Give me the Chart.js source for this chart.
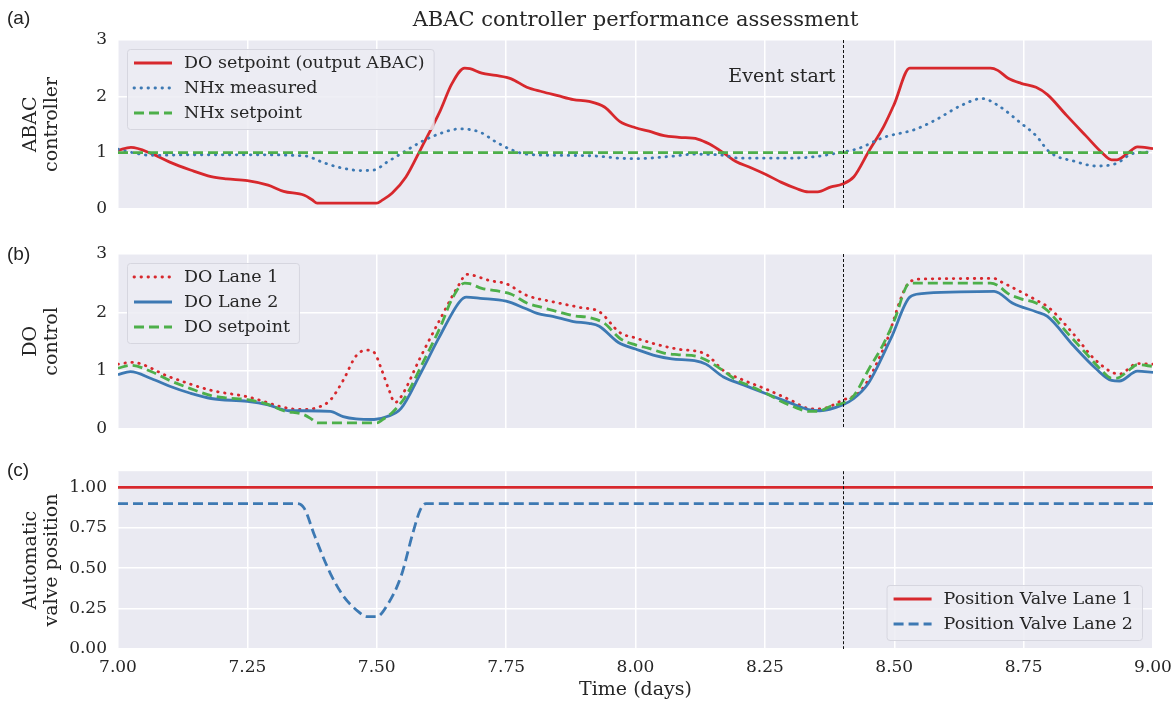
<!DOCTYPE html>
<html>
<head>
<meta charset="utf-8">
<title>ABAC controller performance assessment</title>
<script src="https://cdn.jsdelivr.net/npm/chart.js@4.4.0/dist/chart.umd.min.js"></script>
<style>
  body { margin: 0; background: #fff; }
  #wrap { position: relative; width: 1173px; height: 703px; overflow: hidden; }
  canvas { position: absolute; left: 0; }
  .panel { position: absolute; left: 7px; font-family: "Liberation Sans", Arial, sans-serif; font-size: 19px; color: #222; }
  #title { position: absolute; left: 118px; width: 1035px; top: 7px; text-align: center;
           font-family: "DejaVu Serif", serif; font-size: 21px; color: #262626; }
</style>
</head>
<body>
<div id="wrap">
  <canvas id="chartA" width="1173" height="230" style="top:0px;width:1173px;height:230px"></canvas>
  <canvas id="chartB" width="1173" height="220" style="top:230px;width:1173px;height:220px"></canvas>
  <canvas id="chartC" width="1173" height="253" style="top:450px;width:1173px;height:253px"></canvas>
  <div id="title">ABAC controller performance assessment</div>
  <div class="panel" style="top:7px">(a)</div>
  <div class="panel" style="top:243px">(b)</div>
  <div class="panel" style="top:459px">(c)</div>
</div>
<script>
// ---------------------------
// - DATA -
// ---------------------------

var xTicks = [7.00, 7.25, 7.50, 7.75, 8.00, 8.25, 8.50, 8.75, 9.00];
var yTicksDO = [0, 1, 2, 3];
var yTicksValve = [0, 0.25, 0.5, 0.75, 1.0];
var eventDay = 8.40;

// (a) DO setpoint, also the DO setpoint in (b)
var doSetpointT = [7.00, 7.025, 7.065, 7.10, 7.14, 7.18, 7.21, 7.25, 7.29, 7.32, 7.36, 7.375, 7.385, 7.50, 7.51, 7.53,
    7.556, 7.586, 7.623, 7.645, 7.67, 7.68, 7.703, 7.73, 7.76, 7.79, 7.82, 7.85, 7.88, 7.91, 7.94, 7.97, 8.00, 8.026,
    8.055, 8.084, 8.12, 8.143, 8.172, 8.194, 8.223, 8.252, 8.282, 8.311, 8.334, 8.352, 8.378, 8.40, 8.422, 8.45, 8.48,
    8.50, 8.53, 8.686, 8.70, 8.72, 8.745, 8.774, 8.796, 8.833, 8.87, 8.90, 8.92, 8.93, 8.95, 8.97, 9.00];
var doSetpointV = [1.04, 1.09, 0.98, 0.83, 0.69, 0.57, 0.53, 0.50, 0.42, 0.31, 0.24, 0.16, 0.10, 0.10, 0.15, 0.28,
    0.56, 1.08, 1.75, 2.22, 2.50, 2.49, 2.41, 2.37, 2.31, 2.16, 2.08, 2.01, 1.94, 1.91, 1.81, 1.55, 1.44, 1.38,
    1.30, 1.27, 1.24, 1.15, 0.98, 0.84, 0.73, 0.61, 0.47, 0.36, 0.30, 0.30, 0.39, 0.44, 0.57, 1.01, 1.47,
    1.86, 2.50, 2.50, 2.46, 2.32, 2.23, 2.16, 2.03, 1.66, 1.30, 1.01, 0.87, 0.87, 0.98, 1.10, 1.07];

var nhxMeasuredT = [7.00, 7.027, 7.065, 7.15, 7.25, 7.36, 7.40, 7.435, 7.47, 7.495, 7.52, 7.556, 7.586, 7.62, 7.66,
    7.70, 7.73, 7.76, 7.79, 7.85, 7.92, 7.967, 8.00, 8.077, 8.11, 8.17, 8.20, 8.30, 8.35, 8.40, 8.43, 8.48, 8.54,
    8.58, 8.63, 8.67, 8.70, 8.745, 8.774, 8.80, 8.85, 8.89, 8.93, 8.96, 9.00];
var nhxMeasuredV = [1.06, 1.00, 0.95, 0.96, 0.96, 0.94, 0.81, 0.72, 0.68, 0.69, 0.83, 1.03, 1.19, 1.33, 1.42,
    1.36, 1.19, 1.05, 0.97, 0.95, 0.94, 0.90, 0.89, 0.94, 0.97, 0.95, 0.90, 0.90, 0.93, 1.01, 1.07, 1.27, 1.41,
    1.58, 1.84, 1.96, 1.84, 1.52, 1.30, 1.01, 0.84, 0.76, 0.81, 0.98, 1.01];

var nhxSetpointT = [7.00, 9.00];
var nhxSetpointV = [1.0, 1.0];

// (b) DO per lane
var doLane1T = [7.00, 7.027, 7.10, 7.18, 7.25, 7.33, 7.36, 7.39, 7.41, 7.435, 7.46, 7.48, 7.495, 7.51, 7.524, 7.535,
    7.547, 7.584, 7.62, 7.66, 7.673, 7.72, 7.75, 7.79, 7.84, 7.894, 7.93, 7.97, 8.00, 8.04, 8.08, 8.136, 8.17, 8.21,
    8.25, 8.30, 8.334, 8.356, 8.40, 8.436, 8.48, 8.53, 8.553, 8.693, 8.707, 8.774, 8.80, 8.847, 8.89, 8.935, 8.97, 9.00];
var doLane1V = [1.11, 1.14, 0.89, 0.66, 0.55, 0.35, 0.33, 0.38, 0.49, 0.83, 1.25, 1.35, 1.31, 1.00, 0.66, 0.45,
    0.55, 1.22, 1.84, 2.49, 2.65, 2.54, 2.49, 2.29, 2.18, 2.08, 2.01, 1.65, 1.56, 1.45, 1.37, 1.28, 1.00, 0.83,
    0.69, 0.49, 0.35, 0.34, 0.49, 0.66, 1.39, 2.52, 2.57, 2.58, 2.52, 2.21, 2.07, 1.62, 1.17, 0.94, 1.12, 1.11];

var doLane2T = [7.00, 7.024, 7.065, 7.10, 7.14, 7.18, 7.25, 7.29, 7.33, 7.36, 7.41, 7.435, 7.46, 7.495, 7.52, 7.547,
    7.584, 7.62, 7.66, 7.673, 7.70, 7.75, 7.786, 7.81, 7.84, 7.88, 7.91, 7.93, 7.967, 8.00, 8.04, 8.07, 8.114, 8.136,
    8.17, 8.21, 8.25, 8.30, 8.334, 8.356, 8.40, 8.422, 8.45, 8.494, 8.53, 8.553, 8.627, 8.693, 8.73, 8.774, 8.796,
    8.847, 8.89, 8.92, 8.935, 8.97, 9.00];
var doLane2V = [0.93, 0.98, 0.86, 0.73, 0.61, 0.52, 0.47, 0.41, 0.31, 0.31, 0.30, 0.21, 0.17, 0.16, 0.21, 0.35,
    0.94, 1.56, 2.18, 2.26, 2.24, 2.19, 2.07, 1.98, 1.93, 1.84, 1.81, 1.76, 1.48, 1.37, 1.25, 1.20, 1.17, 1.11,
    0.89, 0.75, 0.61, 0.44, 0.33, 0.31, 0.41, 0.52, 0.78, 1.56, 2.26, 2.32, 2.35, 2.36, 2.15, 2.01, 1.93,
    1.42, 1.03, 0.83, 0.82, 0.99, 0.97];

// (c) valve positions
var valve1T = [7.00, 9.00];
var valve1V = [1.0, 1.0];
var valve2T = [7.00, 7.346, 7.36, 7.38, 7.41, 7.435, 7.465, 7.48, 7.50, 7.52, 7.547, 7.57, 7.584, 7.595, 9.00];
var valve2V = [0.90, 0.90, 0.87, 0.70, 0.47, 0.33, 0.23, 0.20, 0.20, 0.27, 0.45, 0.72, 0.86, 0.90, 0.90];

// ----------- style
var RED = '#d7282d';
var BLUE = '#3d79b3';
var GREEN = '#4daf4a';
var TEXT = '#262626';
var SERIF = '"DejaVu Serif", serif';
var DOT = [0.5, 6.5];
var DASH = [10, 5];
var LW = 2.8;

Chart.defaults.font.family = SERIF;
Chart.defaults.color = TEXT;

function pts(t, v) {
    return t.map(function (x, i) { return {x: x, y: v[i]}; });
}

function line(label, t, v, color, dash, order) {
    return {
        label: label,
        data: pts(t, v),
        borderColor: color,
        backgroundColor: color,
        borderWidth: LW,
        borderDash: dash,
        borderCapStyle: dash === DOT ? 'round' : 'butt',
        pointRadius: 0,
        fill: false,
        cubicInterpolationMode: 'monotone',
        order: order
    };
}

// background, event line, legend box and event text
function decoPlugin(cfg) {
    return {
        id: 'deco',
        beforeDraw: function (chart) {
            var a = chart.chartArea, ctx = chart.ctx;
            ctx.save();
            ctx.fillStyle = '#eaeaf2';
            ctx.fillRect(a.left, a.top, a.right - a.left, a.bottom - a.top);
            ctx.restore();
        },
        afterDatasetsDraw: function (chart) {
            var a = chart.chartArea, ctx = chart.ctx;
            var x = Math.round(chart.scales.x.getPixelForValue(eventDay)) + 0.5;
            ctx.save();
            ctx.strokeStyle = '#111';
            ctx.lineWidth = 1;
            ctx.setLineDash([3, 2]);
            ctx.beginPath();
            ctx.moveTo(x, a.top);
            ctx.lineTo(x, a.bottom);
            ctx.stroke();
            if (cfg.eventText) {
                ctx.setLineDash([]);
                ctx.fillStyle = TEXT;
                ctx.font = '19px ' + SERIF;
                ctx.textAlign = 'right';
                ctx.textBaseline = 'middle';
                ctx.fillText(cfg.eventText, x - 8, a.top + 37);
            }
            ctx.restore();
        },
        afterDraw: function (chart) {
            var a = chart.chartArea, ctx = chart.ctx;
            var items = cfg.items, rowH = 25, padTop = 14, padBot = 16;
            ctx.save();
            ctx.font = '17.5px ' + SERIF;
            var tw = 0;
            items.forEach(function (it) { tw = Math.max(tw, ctx.measureText(it.label).width); });
            var w = 7 + 38 + 12 + tw + 9;
            var h = padTop + rowH * (items.length - 1) + padBot;
            var bx, by;
            if (cfg.corner === 'br') {
                bx = a.right - 11 - w;
                by = a.bottom - 9 - h;
            } else {
                bx = a.left + 9;
                by = a.top + 9;
            }
            ctx.fillStyle = 'rgba(236,236,243,0.85)';
            ctx.strokeStyle = '#d6d6df';
            ctx.lineWidth = 1;
            ctx.beginPath();
            ctx.roundRect(bx + 0.5, by + 0.5, w, h, 3);
            ctx.fill();
            ctx.stroke();
            items.forEach(function (it, i) {
                var y = by + padTop + i * rowH;
                ctx.strokeStyle = it.color;
                ctx.lineWidth = LW;
                ctx.setLineDash(it.dash);
                ctx.lineCap = it.dash === DOT ? 'round' : 'butt';
                ctx.beginPath();
                ctx.moveTo(bx + 7, y);
                ctx.lineTo(bx + 45, y);
                ctx.stroke();
                ctx.setLineDash([]);
                ctx.fillStyle = TEXT;
                ctx.textAlign = 'left';
                ctx.textBaseline = 'middle';
                ctx.fillText(it.label, bx + 57, y);
            });
            ctx.restore();
        }
    };
}

function makeChart(id, datasets, p) {
    var ctx = document.getElementById(id).getContext('2d');
    return new Chart(ctx, {
        type: 'line',
        data: {datasets: datasets},
        plugins: [decoPlugin(p.deco)],
        options: {
            responsive: false,
            animation: false,
            devicePixelRatio: 1,
            events: [],
            layout: {padding: {top: p.padTop, bottom: p.padBottom, left: 0, right: 20}},
            plugins: {legend: {display: false}, tooltip: {enabled: false}},
            scales: {
                x: {
                    type: 'linear',
                    min: 7,
                    max: 9,
                    afterBuildTicks: function (s) { s.ticks = xTicks.map(function (v) { return {value: v}; }); },
                    afterFit: function (s) {
                        s.height = p.xHeight;
                        // keep all three plot areas the same width
                        s.paddingLeft = 0;
                        s.paddingRight = 0;
                    },
                    grid: {color: '#ffffff', lineWidth: 1.5, drawTicks: false},
                    border: {display: false},
                    ticks: {
                        display: p.showX,
                        padding: 8,
                        font: {size: 17},
                        callback: function (v) { return v.toFixed(2); }
                    },
                    title: {display: p.showX, text: 'Time (days)', font: {size: 19}, padding: {top: 2, bottom: 2}}
                },
                y: {
                    min: 0,
                    max: p.yMax,
                    afterBuildTicks: function (s) { s.ticks = p.yTicks.map(function (v) { return {value: v}; }); },
                    afterFit: function (s) { s.width = 118; },
                    grid: {color: '#ffffff', lineWidth: 1.5, drawTicks: false},
                    border: {display: false},
                    ticks: {
                        padding: 11,
                        font: {size: 17},
                        callback: function (v) { return p.yDigits ? v.toFixed(p.yDigits) : String(v); }
                    },
                    title: {display: true, text: p.yTitle, font: {size: 19, lineHeight: 1.1}, padding: {top: 21, bottom: 0}}
                }
            }
        }
    });
}

// (a) ABAC controller
makeChart('chartA', [
    line('DO setpoint (output ABAC)', doSetpointT, doSetpointV, RED, [], 3),
    line('NHx measured', nhxMeasuredT, nhxMeasuredV, BLUE, DOT, 2),
    line('NHx setpoint', nhxSetpointT, nhxSetpointV, GREEN, DASH, 1)
], {
    padTop: 40, padBottom: 14, xHeight: 0, showX: false, yMax: 3, yTicks: yTicksDO, yDigits: 0,
    yTitle: ['ABAC', 'controller'],
    deco: {
        corner: 'tl', eventText: 'Event start',
        items: [
            {label: 'DO setpoint (output ABAC)', color: RED, dash: []},
            {label: 'NHx measured', color: BLUE, dash: DOT},
            {label: 'NHx setpoint', color: GREEN, dash: DASH}
        ]
    }
});

// (b) DO control
makeChart('chartB', [
    line('DO Lane 1', doLane1T, doLane1V, RED, DOT, 3),
    line('DO Lane 2', doLane2T, doLane2V, BLUE, [], 2),
    line('DO setpoint', doSetpointT, doSetpointV, GREEN, DASH, 1)
], {
    padTop: 24, padBottom: 17, xHeight: 0, showX: false, yMax: 3, yTicks: yTicksDO, yDigits: 0,
    yTitle: ['DO', 'control'],
    deco: {
        corner: 'tl',
        items: [
            {label: 'DO Lane 1', color: RED, dash: DOT},
            {label: 'DO Lane 2', color: BLUE, dash: []},
            {label: 'DO setpoint', color: GREEN, dash: DASH}
        ]
    }
});

// (c) valve positions
makeChart('chartC', [
    line('Position Valve Lane 1', valve1T, valve1V, RED, [], 2),
    line('Position Valve Lane 2', valve2T, valve2V, BLUE, DASH, 1)
], {
    padTop: 20, padBottom: 0, xHeight: 54, showX: true, yMax: 1.1, yTicks: yTicksValve, yDigits: 2,
    yTitle: ['Automatic', 'valve position'],
    deco: {
        corner: 'br',
        items: [
            {label: 'Position Valve Lane 1', color: RED, dash: []},
            {label: 'Position Valve Lane 2', color: BLUE, dash: DASH}
        ]
    }
});
</script>
</body>
</html>
